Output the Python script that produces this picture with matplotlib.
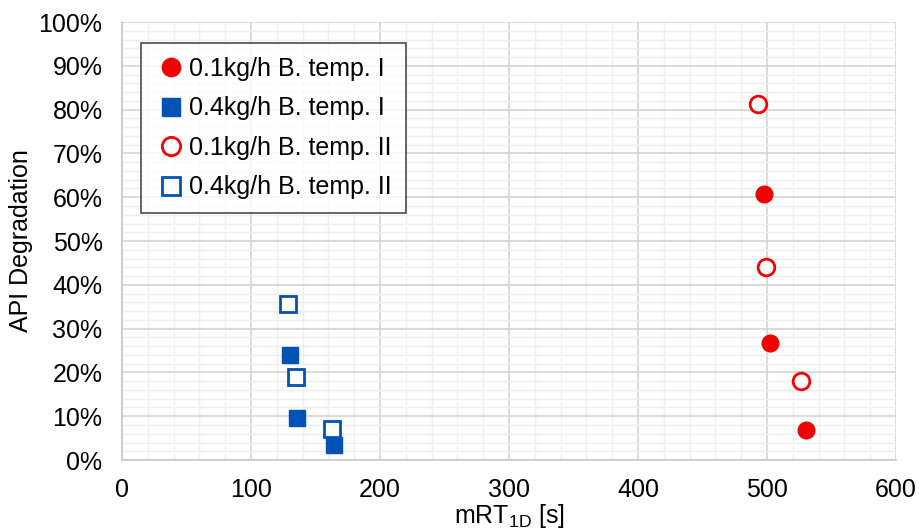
import matplotlib
matplotlib.use('Agg')
import matplotlib.pyplot as plt
from matplotlib.ticker import MultipleLocator, FuncFormatter

# data (x = mRT_1D in s, y = API degradation in %)
x_01_t1 = [498, 502, 530]
y_01_t1 = [60.7, 26.7, 6.8]

x_04_t1 = [130, 136, 164]
y_04_t1 = [24.0, 9.5, 3.4]

x_01_t2 = [493, 499, 526]
y_01_t2 = [81.3, 44.1, 18.0]

x_04_t2 = [129, 135, 163]
y_04_t2 = [35.6, 19.0, 7.1]

RED = '#f00000'
BLUE = '#0052b4'

plt.rcParams['font.family'] = ['Liberation Sans', 'DejaVu Sans']

fig = plt.figure(figsize=(9.19, 5.32), dpi=100)
ax = fig.add_axes([0.1328, 0.1353, 0.975 - 0.1328, 0.9586 - 0.1353])

ms = 12
ax.plot(x_01_t1, y_01_t1, 'o', color=RED, ms=ms, ls='none',
        label='0.1kg/h B. temp. I', zorder=3)
ax.plot(x_04_t1, y_04_t1, 's', color=BLUE, ms=ms, ls='none',
        label='0.4kg/h B. temp. I', zorder=3)
ax.plot(x_01_t2, y_01_t2, 'o', mfc='white', mec=RED, mew=2, ms=ms, ls='none',
        label='0.1kg/h B. temp. II', zorder=3)
ax.plot(x_04_t2, y_04_t2, 's', mfc='white', mec=BLUE, mew=2, ms=ms, ls='none',
        label='0.4kg/h B. temp. II', zorder=3)

ax.set_xlim(0, 600)
ax.set_ylim(0, 100)
ax.xaxis.set_major_locator(MultipleLocator(100))
ax.xaxis.set_minor_locator(MultipleLocator(20))
ax.yaxis.set_major_locator(MultipleLocator(10))
ax.yaxis.set_minor_locator(MultipleLocator(2))
ax.yaxis.set_major_formatter(FuncFormatter(lambda v, p: f'{v:.0f}%'))

ax.grid(which='major', color='#d4d4d4', lw=1.2)
ax.grid(which='minor', color='#efefef', lw=1.0)
ax.set_axisbelow(True)
ax.tick_params(which='both', length=0, labelsize=18)
ax.tick_params(axis='y', pad=14)
ax.tick_params(axis='x', pad=13)

for s in ['top', 'right']:
    ax.spines[s].set_visible(False)
for s in ['left', 'bottom']:
    ax.spines[s].set_color('#c8c8c8')
    ax.spines[s].set_linewidth(1.2)

ax.set_xlabel('mRT$_{\\mathregular{1D}}$ [s]', fontsize=18, labelpad=0)
ax.set_ylabel('API Degradation', fontsize=18, labelpad=4)

leg = ax.legend(loc='upper left', bbox_to_anchor=(0.024, 0.952), fontsize=18,
                frameon=True, fancybox=False, handletextpad=0.1,
                handlelength=1.3, borderpad=0.55, labelspacing=0.62,
                borderaxespad=0, markerscale=1.1)
leg.get_frame().set_edgecolor('#202020')
leg.get_frame().set_linewidth(1.2)

fig.savefig('out.png', dpi=100)
